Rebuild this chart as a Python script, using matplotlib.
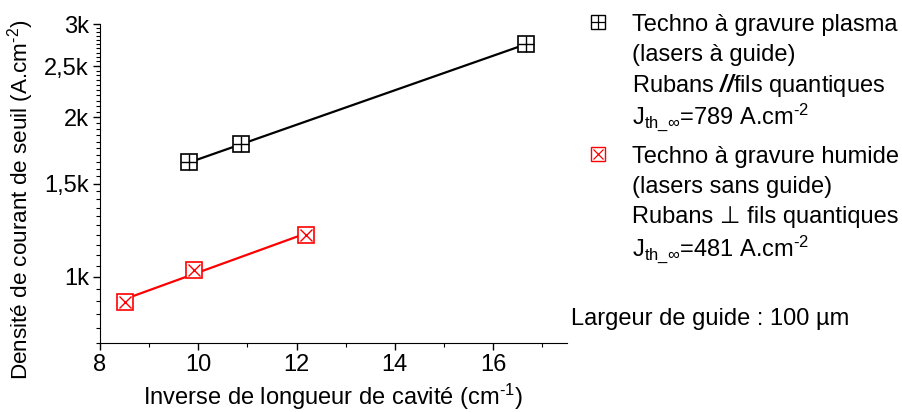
import numpy as np
import matplotlib
matplotlib.use("Agg")
import matplotlib.pyplot as plt
from matplotlib.ticker import FixedLocator, MultipleLocator, NullFormatter

plt.rcParams['font.family'] = ['Liberation Sans', 'DejaVu Sans']
plt.rcParams['mathtext.fontset'] = 'custom'
plt.rcParams['mathtext.rm'] = 'Liberation Sans'
plt.rcParams['mathtext.it'] = 'Liberation Sans:italic'
plt.rcParams['mathtext.bf'] = 'Liberation Sans:bold:italic'

# data
x_plasma = [9.81, 10.88, 16.66]
j_plasma = [1644, 1780, 2747]
x_humide = [8.5, 9.91, 12.2]
j_humide = [897, 1031, 1200]

yticks = [1000, 1500, 2000, 2500, 3000]
yticklabels = ["1k", "1,5k", "2k", "2,5k", "3k"]
xticks = [8, 10, 12, 14, 16]

fig = plt.figure(figsize=(9.03, 4.12), dpi=100)
ax = fig.add_axes([0.1107, 0.1675, 0.517, 0.774])

def fit_line(x, j):
    # exponential fit, straight on the log axis
    p = np.polyfit(x, np.log(j), 1)
    xx = np.array([min(x), max(x)])
    return xx, np.exp(np.polyval(p, xx))

ms = 11.5
for x, j, col, cross in [(x_plasma, j_plasma, 'black', '+'), (x_humide, j_humide, 'red', 'x')]:
    xx, yy = fit_line(x, j)
    ax.plot(xx, yy, color=col, lw=1.6, zorder=2)
    ax.plot(x, j, ls='none', marker='s', ms=ms, mfc='white', mec=col, mew=1.2, zorder=3)
    ax.plot(x, j, ls='none', marker=cross, ms=ms * (1.0 if cross == '+' else 0.72), mec=col, mew=1.0, zorder=4)

ax.set_yscale('log')
ax.set_xlim(8, 17.5)
ax.set_ylim(750, 3000)
ax.yaxis.set_major_locator(FixedLocator(yticks))
ax.set_yticklabels(yticklabels)
ax.yaxis.set_minor_locator(MultipleLocator(50))
ax.yaxis.set_minor_formatter(NullFormatter())
ax.set_xticks(xticks)
ax.xaxis.set_minor_locator(MultipleLocator(1))

for s in ['top', 'right']:
    ax.spines[s].set_visible(False)
fs = 17
ax.tick_params(which='major', direction='out', length=5, width=1, labelsize=fs, pad=3)
ax.tick_params(which='minor', direction='out', length=3, width=0.8)

ax.set_xlabel(r"Inverse de longueur de cavité (cm$^{\text{-1}}$)", fontsize=fs, labelpad=4)
ax.set_ylabel(r"Densité de courant de seuil (A.cm$^{\text{-2}}$)", fontsize=16.2)
ax.yaxis.set_label_coords(-0.138, 0.45)

# legend drawn by hand on the right
def px(x, y):
    return x / 903, 1 - y / 412

tx = 632
mx = 598
for y, col, cross in [(22, 'black', '+'), (154, 'red', 'x')]:
    lx, ly = px(mx, y)
    fig.lines.append(plt.Line2D([lx], [ly], transform=fig.transFigure, marker='s', ms=10, mfc='white', mec=col, mew=1.0, ls='none'))
    fig.lines.append(plt.Line2D([lx], [ly], transform=fig.transFigure, marker=cross, ms=10 * (1.0 if cross == '+' else 0.72), mec=col, mew=0.9, ls='none'))

lines_plasma = ["Techno à gravure plasma", "(lasers à guide)",
                r"Rubans $\mathbf{//}$fils quantiques", r"J$_{\mathrm{th\_\infty}}$=789 A.cm$^{\text{-2}}$"]
lines_humide = ["Techno à gravure humide", "(lasers sans guide)",
                "Rubans ⊥ fils quantiques", r"J$_{\mathrm{th\_\infty}}$=481 A.cm$^{\text{-2}}$"]
for i, t in enumerate(lines_plasma):
    fig.text(*px(tx, 22 + 30 * i), t, fontsize=fs, va='center_baseline', ha='left')
for i, t in enumerate(lines_humide):
    fig.text(*px(tx, 154 + 30 * i), t, fontsize=fs, va='center_baseline', ha='left')
fig.text(*px(571, 316), "Largeur de guide : 100 µm", fontsize=fs, va='center_baseline', ha='left')

fig.savefig("out.png", dpi=100)
